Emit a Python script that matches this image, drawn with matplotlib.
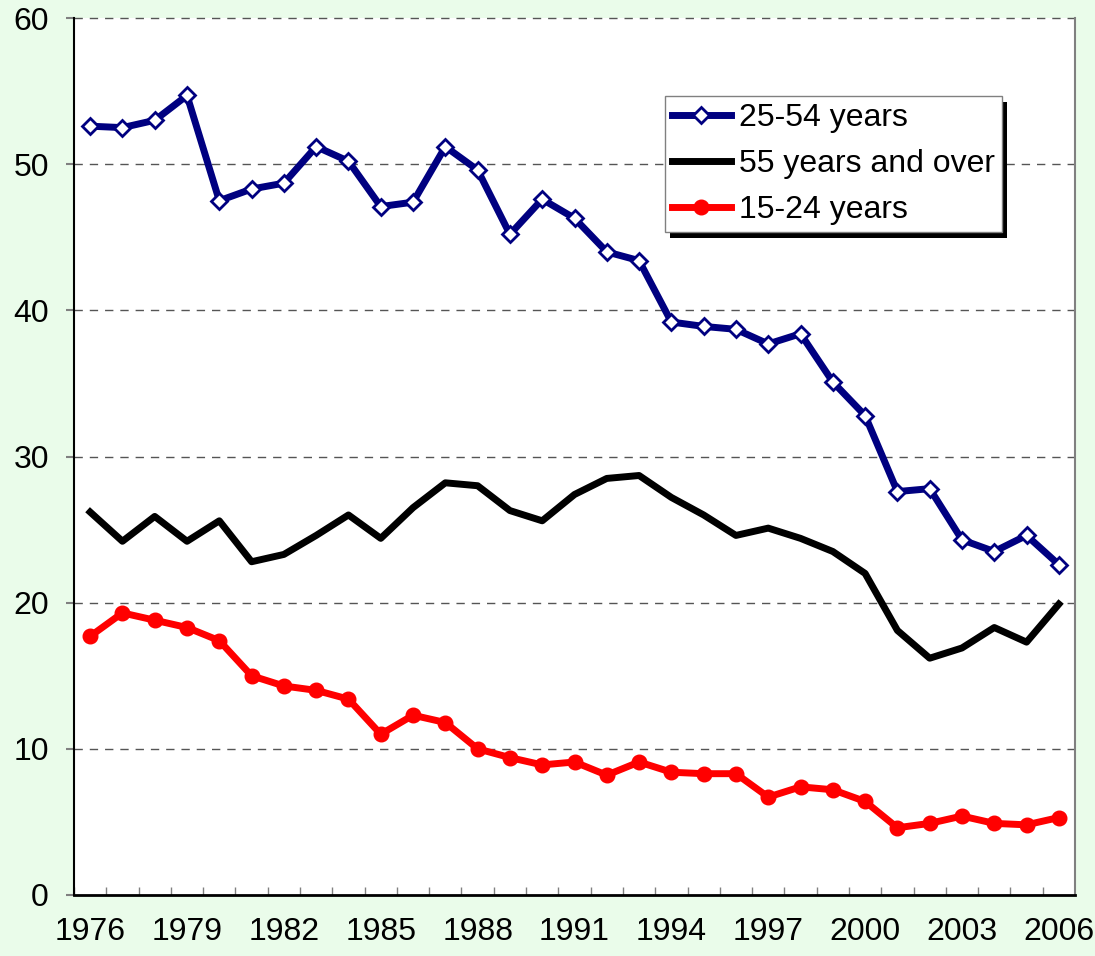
import matplotlib
matplotlib.use("Agg")
import matplotlib.pyplot as plt
import matplotlib.patheffects as pe
from matplotlib.ticker import FixedLocator

years = list(range(1976, 2007))
age_25_54 = [52.6, 52.5, 53.0, 54.7, 47.5, 48.3, 48.7, 51.2, 50.2, 47.1, 47.4,
             51.2, 49.6, 45.2, 47.6, 46.3, 44.0, 43.4, 39.2, 38.9, 38.7, 37.7,
             38.4, 35.1, 32.8, 27.6, 27.8, 24.3, 23.5, 24.6, 22.6]
age_55_over = [26.2, 24.2, 25.9, 24.2, 25.6, 22.8, 23.3, 24.6, 26.0, 24.4, 26.5,
               28.2, 28.0, 26.3, 25.6, 27.4, 28.5, 28.7, 27.2, 26.0, 24.6, 25.1,
               24.4, 23.5, 22.0, 18.1, 16.2, 16.9, 18.3, 17.3, 19.9]
age_15_24 = [17.7, 19.3, 18.8, 18.3, 17.4, 15.0, 14.3, 14.0, 13.4, 11.0, 12.3,
             11.8, 10.0, 9.4, 8.9, 9.1, 8.2, 9.1, 8.4, 8.3, 8.3, 6.7,
             7.4, 7.2, 6.4, 4.6, 4.9, 5.4, 4.9, 4.8, 5.3]
series_labels = ["25-54 years", "55 years and over", "15-24 years"]
label_years = list(range(1976, 2007, 3))
y_ticks = [0, 10, 20, 30, 40, 50, 60]

plt.rcParams['font.family'] = ['Liberation Sans', 'DejaVu Sans']

fig = plt.figure(figsize=(10.95, 9.56), dpi=100, facecolor='#eafcea')
ax = fig.add_axes([74/1095, 61/956, 1001/1095, 877/956])
ax.set_facecolor('white')

lw = 5
ax.plot(years, age_25_54, color='#000080', lw=lw, marker='D', ms=8,
        mfc='white', mec='#000080', mew=2, label=series_labels[0], zorder=4)
ax.plot(years, age_55_over, color='black', lw=lw, label=series_labels[1], zorder=3)
ax.plot(years, age_15_24, color='#ff0000', lw=lw, marker='o', ms=10.5,
        mfc='#ff0000', mec='#ff0000', label=series_labels[2], zorder=3)

ax.set_xlim(1975.5, 2006.5)
ax.set_ylim(0, 60)
ax.set_yticks(y_ticks)
ax.set_yticklabels([str(v) for v in y_ticks], fontsize=23)
ax.set_xticks(label_years)
ax.set_xticklabels([str(v) for v in label_years], fontsize=23)
ax.xaxis.set_minor_locator(FixedLocator([y + 0.5 for y in range(1975, 2006)]))
ax.tick_params(axis='x', which='major', length=0, pad=16)
ax.tick_params(axis='x', which='minor', direction='in', length=6, color='#808080', width=1)
ax.tick_params(axis='y', which='major', direction='out', length=6, color='#808080', width=1.5, pad=12)

for v in y_ticks[1:]:
    ax.axhline(v, color='#555555', lw=1.0, ls=(0, (6, 5)), zorder=1, clip_on=False)

ax.spines['left'].set_color('black')
ax.spines['left'].set_linewidth(1.5)
ax.spines['bottom'].set_color('black')
ax.spines['bottom'].set_linewidth(2)
ax.spines['top'].set_visible(False)
ax.spines['right'].set_color('#808080')
ax.spines['right'].set_linewidth(1.5)

leg = ax.legend(loc='upper left', bbox_to_anchor=(0.590, 0.911), borderaxespad=0,
                fontsize=23, frameon=True, fancybox=False,
                handlelength=1.85, handletextpad=0.25, labelspacing=0.5,
                borderpad=0.22, edgecolor='#808080', framealpha=1)
frame = leg.get_frame()
frame.set_linewidth(1.0)
frame.set_path_effects([pe.SimplePatchShadow(offset=(4, -4), shadow_rgbFace='black', alpha=1),
                        pe.Normal()])

fig.savefig('out.png', dpi=100, facecolor=fig.get_facecolor())
